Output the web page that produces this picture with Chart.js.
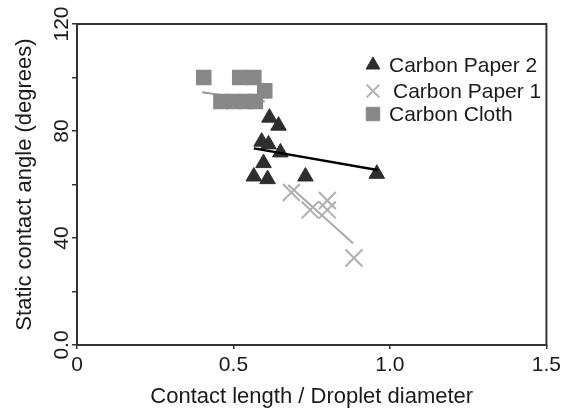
<!DOCTYPE html>
<html><head><meta charset="utf-8">
<script src="https://cdn.jsdelivr.net/npm/chart.js@4.4.1/dist/chart.umd.min.js"></script>
<style>html,body{margin:0;padding:0;background:#fff}#wrap{width:565px;height:410px;position:relative}</style>
</head><body><div id="wrap"><canvas id="c"></canvas></div>
<script>
// Series values
const paper2X = [0.615, 0.644, 0.59, 0.612, 0.65, 0.596, 0.565, 0.609, 0.73, 0.958];
const paper2Y = [85, 82, 76, 75, 72, 68, 63, 62, 63, 64];
const paper1X = [0.685, 0.745, 0.80, 0.80, 0.885];
const paper1Y = [57, 50.5, 54, 50.5, 32.5];
const clothX = [0.405, 0.52, 0.565, 0.60, 0.46, 0.50, 0.54, 0.57];
const clothY = [100, 100, 100, 95, 91, 91, 91, 91];
// Fitted trend lines (end points)
const paper2FitX = [0.565, 0.96];
const paper2FitY = [73.5, 65.4];
const paper1FitX = [0.675, 0.882];
const paper1FitY = [59.8, 38];
const clothFitX = [0.40, 0.60];
const clothFitY = [94.5, 91];
// Labels
const seriesNames = ['Carbon Paper 2', 'Carbon Paper 1', 'Carbon Cloth'];
const xTickLabels = {0: '0', 0.5: '0.5', 1: '1.0', 1.5: '1.5'};
const yTickLabels = {0: '0.0', 40: '40', 80: '80', 120: '120'};
const xTitle = 'Contact length / Droplet diameter';
const yTitle = 'Static contact angle (degrees)';

const pts = (xs, ys) => xs.map((x, i) => ({x, y: ys[i]}));
const FONT = "'Liberation Sans', Arial, sans-serif";
const C_P2 = '#2e2e2e', C_P1 = '#b0b0b0', C_CL = '#888888';

const legendPlugin = {
  id: 'insideLegend',
  afterDraw(chart) {
    const ctx = chart.ctx;
    const items = [
      {t: seriesNames[0], style: 'triangle', r: 8, fill: C_P2, stroke: C_P2, y: 65, tx: 389},
      {t: seriesNames[1], style: 'crossRot', r: 9, fill: C_P1, stroke: C_P1, y: 91, tx: 393},
      {t: seriesNames[2], style: 'rect', r: 9.5, fill: C_CL, stroke: C_CL, y: 114, tx: 389}
    ];
    ctx.save();
    items.forEach(it => {
      ctx.fillStyle = it.fill; ctx.strokeStyle = it.stroke; ctx.lineWidth = it.style === 'crossRot' ? 2 : 1;
      Chart.helpers.drawPoint(ctx, {pointStyle: it.style, radius: it.r, borderWidth: ctx.lineWidth}, 373, it.y);
      ctx.fillStyle = '#1a1a1a';
      ctx.font = '21px ' + FONT;
      ctx.textAlign = 'left'; ctx.textBaseline = 'middle';
      ctx.fillText(it.t, it.tx, it.y + 1);
    });
    ctx.restore();
  }
};
const framePlugin = {
  id: 'frame',
  afterDraw(chart) {
    const {ctx, chartArea: a} = chart;
    ctx.save();
    ctx.strokeStyle = '#333'; ctx.lineWidth = 2;
    ctx.strokeRect(a.left, a.top, a.right - a.left, a.bottom - a.top);
    ctx.restore();
  }
};

new Chart(document.getElementById('c'), {
  type: 'scatter',
  data: {
    datasets: [
      {label: seriesNames[0], data: pts(paper2X, paper2Y), pointStyle: 'triangle', pointRadius: 9, pointHoverRadius: 9,
       backgroundColor: C_P2, borderColor: C_P2, borderWidth: 1, order: 1},
      {label: seriesNames[1], data: pts(paper1X, paper1Y), pointStyle: 'crossRot', pointRadius: 12, pointHoverRadius: 12,
       backgroundColor: C_P1, borderColor: C_P1, borderWidth: 2, order: 1},
      {label: seriesNames[2], data: pts(clothX, clothY), pointStyle: 'rect', pointRadius: 11, pointHoverRadius: 11,
       backgroundColor: C_CL, borderColor: C_CL, borderWidth: 0, order: 1},
      {label: 'fit2', data: pts(paper2FitX, paper2FitY), showLine: true, pointRadius: 0, borderColor: '#000', borderWidth: 2.5, order: 0},
      {label: 'fit1', data: pts(paper1FitX, paper1FitY), showLine: true, pointRadius: 0, borderColor: '#aaaaaa', borderWidth: 2, order: 2},
      {label: 'fitc', data: pts(clothFitX, clothFitY), showLine: true, pointRadius: 0, borderColor: '#999999', borderWidth: 2, order: 2}
    ]
  },
  options: {
    responsive: true, maintainAspectRatio: false, animation: false,
    layout: {padding: {top: 24, right: 15, left: 0, bottom: 0}},
    plugins: {legend: {display: false}, tooltip: {enabled: false}},
    scales: {
      x: {
        type: 'linear', min: 0, max: 1.5,
        afterFit: s => { s.height = 65; },
        border: {display: false},
        grid: {drawOnChartArea: false, drawTicks: true, tickLength: 4, color: '#333', lineWidth: 1.5},
        ticks: {stepSize: 0.5, padding: 4, color: '#1a1a1a', font: {family: FONT, size: 21},
                callback: v => xTickLabels[v] ?? ''},
        title: {display: true, text: xTitle, color: '#1a1a1a', font: {family: FONT, size: 22}, padding: {top: 0, bottom: 0}}
      },
      y: {
        type: 'linear', min: 0, max: 120,
        afterFit: s => { s.width = 77; },
        border: {display: false},
        grid: {drawOnChartArea: false, drawTicks: true, tickLength: 5, color: '#333', lineWidth: 1.5},
        ticks: {stepSize: 20, minRotation: 90, maxRotation: 90, crossAlign: 'center', padding: -8,
                color: '#1a1a1a', font: {family: FONT, size: 21},
                callback: v => yTickLabels[v] ?? ''},
        title: {display: true, text: yTitle, color: '#1a1a1a', font: {family: FONT, size: 22}, padding: {top: 12, bottom: 0}}
      }
    }
  },
  plugins: [legendPlugin, framePlugin]
});
</script>
</body></html>
